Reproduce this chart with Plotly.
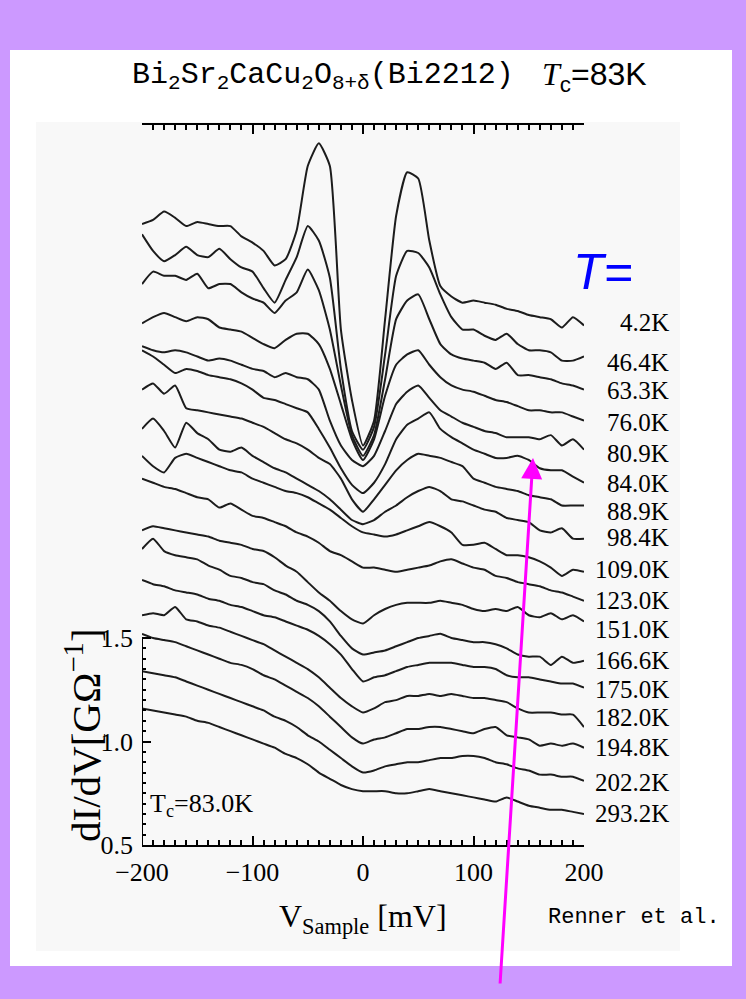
import plotly.graph_objects as go

# ---------------- data ----------------
V = [-200, -190, -180, -170, -160, -150, -140, -130, -120, -110, -100, -90, -80, -70, -60, -50,
     -40, -30, -20, -10, 0, 10, 20, 30, 40, 50, 60, 70, 80, 90, 100, 110, 120, 130, 140, 150,
     160, 170, 180, 190, 200]

temps = ["4.2K", "46.4K", "63.3K", "76.0K", "80.9K", "84.0K", "88.9K", "98.4K", "109.0K",
         "123.0K", "151.0K", "166.6K", "175.0K", "182.0K", "194.8K", "202.2K", "293.2K"]

# dI/dV curves (vertically offset as in the original figure), GOhm^-1
c_4_2 = [3.50, 3.52, 3.56, 3.53, 3.49, 3.51, 3.50, 3.49, 3.49, 3.44, 3.41, 3.37, 3.30, 3.33, 3.47, 3.78,
         3.89, 3.78, 2.99, 2.65, 2.43, 2.55, 3.04, 3.54, 3.75, 3.72, 3.42, 3.20, 3.15, 3.12, 3.13, 3.12,
         3.11, 3.09, 3.08, 3.06, 3.05, 3.04, 3.00, 3.05, 3.01]
c_46_4 = [3.45, 3.37, 3.32, 3.35, 3.39, 3.35, 3.34, 3.38, 3.33, 3.29, 3.27, 3.19, 3.12, 3.23, 3.34, 3.49,
          3.42, 3.24, 2.80, 2.50, 2.41, 2.52, 2.87, 3.25, 3.37, 3.36, 3.29, 3.16, 3.05, 2.99, 2.99, 2.96,
          2.94, 2.97, 2.92, 2.89, 2.89, 2.88, 2.84, 2.84, 2.86]
c_63_3 = [3.21, 3.27, 3.25, 3.25, 3.23, 3.26, 3.19, 3.21, 3.21, 3.17, 3.14, 3.12, 3.07, 3.13, 3.17, 3.28,
          3.18, 2.99, 2.72, 2.48, 2.38, 2.48, 2.75, 3.04, 3.13, 3.16, 3.04, 2.92, 2.87, 2.85, 2.84, 2.83,
          2.80, 2.83, 2.77, 2.77, 2.76, 2.75, 2.73, 2.72, 2.70]
c_76_0 = [3.02, 3.05, 3.07, 3.05, 3.03, 3.05, 3.04, 3.00, 2.99, 2.98, 2.95, 2.92, 2.90, 2.94, 2.97, 2.97,
          2.92, 2.80, 2.63, 2.46, 2.36, 2.46, 2.67, 2.82, 2.87, 2.89, 2.82, 2.76, 2.72, 2.70, 2.69, 2.67,
          2.65, 2.64, 2.62, 2.60, 2.60, 2.59, 2.59, 2.57, 2.55]
c_80_9 = [2.91, 2.89, 2.88, 2.89, 2.88, 2.86, 2.84, 2.85, 2.84, 2.82, 2.80, 2.79, 2.76, 2.78, 2.76, 2.75,
          2.70, 2.55, 2.43, 2.36, 2.33, 2.38, 2.50, 2.63, 2.69, 2.72, 2.66, 2.60, 2.57, 2.54, 2.52, 2.50,
          2.49, 2.47, 2.47, 2.47, 2.46, 2.48, 2.43, 2.46, 2.41]
c_84_0 = [2.89, 2.86, 2.82, 2.78, 2.80, 2.79, 2.77, 2.76, 2.75, 2.73, 2.70, 2.66, 2.65, 2.63, 2.61, 2.59,
          2.51, 2.42, 2.32, 2.24, 2.20, 2.25, 2.34, 2.46, 2.53, 2.56, 2.59, 2.51, 2.47, 2.44, 2.41, 2.39,
          2.37, 2.37, 2.38, 2.36, 2.32, 2.31, 2.31, 2.28, 2.25]
c_88_9 = [2.70, 2.73, 2.68, 2.72, 2.61, 2.60, 2.59, 2.58, 2.57, 2.56, 2.54, 2.52, 2.49, 2.46, 2.44, 2.41,
          2.37, 2.34, 2.27, 2.17, 2.11, 2.17, 2.24, 2.31, 2.36, 2.39, 2.38, 2.37, 2.35, 2.33, 2.27, 2.25,
          2.23, 2.22, 2.21, 2.19, 2.18, 2.17, 2.14, 2.14, 2.14]
c_98_4 = [2.51, 2.56, 2.50, 2.42, 2.54, 2.49, 2.46, 2.41, 2.40, 2.42, 2.38, 2.35, 2.32, 2.30, 2.27, 2.24,
          2.21, 2.17, 2.12, 2.07, 2.05, 2.07, 2.11, 2.14, 2.18, 2.21, 2.23, 2.21, 2.17, 2.16, 2.14, 2.12,
          2.11, 2.08, 2.07, 2.06, 2.02, 2.01, 2.03, 1.98, 1.98]
c_109_0 = [2.38, 2.33, 2.30, 2.37, 2.39, 2.37, 2.35, 2.33, 2.31, 2.30, 2.27, 2.25, 2.23, 2.21, 2.20, 2.18,
           2.15, 2.12, 2.08, 2.04, 2.01, 2.00, 1.99, 2.00, 2.02, 2.04, 2.06, 2.04, 2.01, 1.95, 1.95, 1.96,
           1.93, 1.90, 1.90, 1.89, 1.87, 1.84, 1.80, 1.83, 1.82]
c_123_0 = [2.27, 2.25, 2.23, 2.22, 2.20, 2.18, 2.17, 2.13, 2.15, 2.12, 2.09, 2.08, 2.06, 2.04, 2.01, 1.99,
           1.96, 1.92, 1.90, 1.87, 1.84, 1.84, 1.83, 1.82, 1.83, 1.84, 1.85, 1.87, 1.88, 1.86, 1.84, 1.83,
           1.80, 1.79, 1.77, 1.76, 1.75, 1.73, 1.72, 1.70, 1.68]
c_151_0 = [2.02, 2.04, 2.03, 2.02, 2.01, 2.00, 1.99, 1.97, 1.96, 1.95, 1.93, 1.92, 1.89, 1.85, 1.82, 1.77,
           1.72, 1.68, 1.63, 1.59, 1.57, 1.61, 1.64, 1.66, 1.67, 1.67, 1.67, 1.68, 1.67, 1.66, 1.64, 1.63,
           1.64, 1.63, 1.65, 1.61, 1.60, 1.62, 1.59, 1.61, 1.58]
c_166_6 = [1.93, 1.98, 1.92, 1.90, 1.89, 1.88, 1.85, 1.83, 1.80, 1.79, 1.77, 1.76, 1.73, 1.71, 1.68, 1.66,
           1.63, 1.58, 1.51, 1.45, 1.42, 1.43, 1.44, 1.46, 1.48, 1.50, 1.51, 1.52, 1.50, 1.49, 1.48, 1.48,
           1.47, 1.45, 1.42, 1.41, 1.41, 1.37, 1.41, 1.38, 1.39]
c_175_0 = [1.78, 1.76, 1.75, 1.73, 1.72, 1.71, 1.69, 1.68, 1.66, 1.65, 1.63, 1.61, 1.60, 1.58, 1.56, 1.54,
           1.51, 1.47, 1.42, 1.35, 1.29, 1.31, 1.32, 1.34, 1.36, 1.37, 1.38, 1.38, 1.38, 1.37, 1.36, 1.36,
           1.35, 1.32, 1.31, 1.31, 1.30, 1.29, 1.28, 1.28, 1.26]
c_182_0 = [1.61, 1.62, 1.61, 1.65, 1.59, 1.58, 1.56, 1.55, 1.53, 1.51, 1.49, 1.47, 1.44, 1.41, 1.38, 1.35,
           1.31, 1.26, 1.21, 1.17, 1.14, 1.16, 1.19, 1.20, 1.22, 1.22, 1.23, 1.22, 1.23, 1.22, 1.21, 1.21,
           1.20, 1.19, 1.16, 1.14, 1.14, 1.14, 1.13, 1.13, 1.07]
c_194_8 = [1.52, 1.50, 1.49, 1.48, 1.46, 1.44, 1.42, 1.40, 1.38, 1.37, 1.35, 1.32, 1.30, 1.27, 1.24, 1.21,
           1.17, 1.12, 1.07, 1.02, 0.99, 1.01, 1.02, 1.04, 1.06, 1.06, 1.07, 1.07, 1.06, 1.05, 1.04, 1.06,
           1.07, 1.03, 1.02, 1.01, 0.98, 0.99, 0.98, 0.99, 0.97]
c_202_2 = [1.34, 1.33, 1.32, 1.31, 1.29, 1.27, 1.25, 1.23, 1.21, 1.19, 1.17, 1.15, 1.12, 1.10, 1.07, 1.03,
           1.00, 0.96, 0.92, 0.88, 0.85, 0.86, 0.88, 0.89, 0.90, 0.90, 0.91, 0.92, 0.92, 0.93, 0.93, 0.92,
           0.90, 0.89, 0.87, 0.86, 0.84, 0.84, 0.83, 0.83, 0.81]
c_293_2 = [1.16, 1.15, 1.14, 1.13, 1.12, 1.10, 1.09, 1.07, 1.05, 1.03, 1.01, 0.99, 0.97, 0.94, 0.92, 0.89,
           0.85, 0.82, 0.79, 0.77, 0.76, 0.76, 0.76, 0.75, 0.75, 0.76, 0.77, 0.76, 0.75, 0.74, 0.73, 0.72,
           0.71, 0.73, 0.71, 0.69, 0.68, 0.67, 0.67, 0.66, 0.65]

curves = [c_4_2, c_46_4, c_63_3, c_76_0, c_80_9, c_84_0, c_88_9, c_98_4, c_109_0, c_123_0,
          c_151_0, c_166_6, c_175_0, c_182_0, c_194_8, c_202_2, c_293_2]

x_tickvals = [-200, -100, 0, 100, 200]
x_ticktext = ["\u2212200", "\u2212100", "0", "100", "200"]
x_minor = [-190, -180, -170, -160, -150, -140, -130, -120, -110, -90, -80, -70, -60, -50, -40, -30,
           -20, -10, 10, 20, 30, 40, 50, 60, 70, 80, 90, 110, 120, 130, 140, 150, 160, 170, 180, 190]
y_tickvals = [0.5, 1.0, 1.5]
y_ticktext = ["0.5", "1.0", "1.5"]
y_minor = [0.55, 0.60, 0.65, 0.70, 0.75, 0.80, 0.85, 0.90, 0.95,
           1.05, 1.10, 1.15, 1.20, 1.25, 1.30, 1.35, 1.40, 1.45]

# ---------------- layout helpers ----------------
W, H = 746, 999
def fx(p):
    return p / W
def fy(p):
    return 1 - p / H

SERIF = "Liberation Serif"
MONO = "Liberation Mono"
SANS = "Liberation Sans"

fig = go.Figure()
for name, c in zip(temps, curves):
    fig.add_trace(go.Scatter(x=V, y=c, mode="lines", name=name,
                             line=dict(color="#1c1c1c", width=2, shape="spline", smoothing=0.5),
                             hoverinfo="skip", showlegend=False))

label_y_px = [323, 362, 391, 422, 453, 483, 511, 537, 569, 600, 629, 660, 689, 717, 747, 782, 813]
annotations = []
for t, yp in zip(temps, label_y_px):
    annotations.append(dict(x=fx(671), y=fy(yp), xref="paper", yref="paper", text=t,
                            showarrow=False, xanchor="right", yanchor="middle",
                            font=dict(family=SERIF, size=25, color="black")))

annotations += [
    dict(x=fx(130), y=fy(76), xref="paper", yref="paper", xanchor="left", yanchor="middle",
         text="Bi<sub>2</sub>Sr<sub>2</sub>CaCu<sub>2</sub>O<sub>8+\u03b4</sub>(Bi2212)",
         showarrow=False, font=dict(family=MONO, size=30, color="black")),
    dict(x=fx(540), y=fy(76), xref="paper", yref="paper", xanchor="left", yanchor="middle",
         text="<span style='font-family:Liberation Serif'><i>T</i></span><sub>c</sub>=83K",
         showarrow=False, font=dict(family=SANS, size=32, color="black")),
    dict(x=fx(603), y=fy(272), xref="paper", yref="paper", xanchor="center", yanchor="middle",
         text="<i>T=</i>", showarrow=False, font=dict(family=SANS, size=50, color="#0000ff")),
    dict(x=fx(148), y=fy(805), xref="paper", yref="paper", xanchor="left", yanchor="middle",
         text="T<sub>c</sub>=83.0K", showarrow=False, font=dict(family=SERIF, size=26, color="black")),
    dict(x=fx(363), y=fy(918), xref="paper", yref="paper", xanchor="center", yanchor="middle",
         text="V<sub>Sample</sub> [mV]", showarrow=False, font=dict(family=SERIF, size=32, color="black")),
    dict(x=fx(83), y=fy(735), xref="paper", yref="paper", xanchor="center", yanchor="middle",
         text="dI/dV[G\u03a9<sup>\u22121</sup>]", textangle=-90, showarrow=False,
         font=dict(family=SERIF, size=41, color="black")),
    dict(x=fx(634), y=fy(917), xref="paper", yref="paper", xanchor="center", yanchor="middle",
         text="Renner et al.", showarrow=False, font=dict(family=MONO, size=22, color="black")),
    dict(x=fx(533), y=fy(458), xref="paper", yref="paper", ax=-33, ay=527, axref="pixel", ayref="pixel",
         text="", showarrow=True, arrowhead=2, arrowsize=1.4, arrowwidth=3, arrowcolor="#ff00ff",
         standoff=0),
]

shapes = [
    dict(type="rect", xref="paper", yref="paper", x0=fx(10), x1=fx(732), y0=fy(966), y1=fy(50),
         fillcolor="white", line=dict(width=0), layer="below"),
    dict(type="rect", xref="paper", yref="paper", x0=fx(36), x1=fx(680), y0=fy(951), y1=fy(122),
         fillcolor="#f8f8f8", line=dict(width=0), layer="below"),
    dict(type="line", xref="x", yref="y", x0=-200, x1=-200, y0=0.5, y1=1.5,
         line=dict(color="black", width=2)),
]

fig.update_layout(
    width=W, height=H, margin=dict(l=0, r=0, t=0, b=0, pad=0, autoexpand=False),
    paper_bgcolor="#cc99ff", plot_bgcolor="rgba(0,0,0,0)",
    showlegend=False,
    xaxis=dict(domain=[fx(142), fx(584)], range=[-200, 200], showline=True, linecolor="black",
               linewidth=2, mirror="ticks", ticks="inside", ticklen=9, tickwidth=2, tickcolor="black",
               tickvals=x_tickvals, ticktext=x_ticktext, ticklabelstandoff=3, automargin=False,
               tickfont=dict(family=SERIF, size=26, color="black"),
               minor=dict(tickvals=x_minor, ticks="inside", ticklen=5, tickwidth=1.5, tickcolor="black"),
               showgrid=False, zeroline=False, fixedrange=True),
    yaxis=dict(domain=[fy(845), fy(125)], range=[0.5, 0.5 + (845 - 125) / 207.0], showline=False,
               ticks="inside", ticklen=9, tickwidth=2, tickcolor="black", automargin=False,
               tickvals=y_tickvals, ticktext=y_ticktext, ticklabelstandoff=8,
               tickfont=dict(family=SERIF, size=26, color="black"),
               minor=dict(tickvals=y_minor, ticks="inside", ticklen=4, tickwidth=1.5, tickcolor="black"),
               showgrid=False, zeroline=False, fixedrange=True),
    annotations=annotations,
    shapes=shapes,
)

fig.write_html("out.html", config={"displayModeBar": False},
               post_script="document.body.style.margin='0';document.body.style.padding='0';"
                           "document.body.style.overflow='hidden';")
